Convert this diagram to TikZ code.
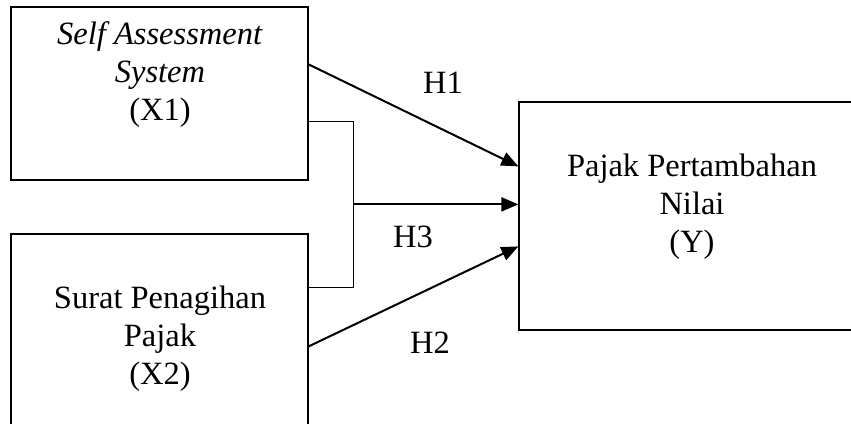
\documentclass[tikz,border=0pt]{standalone}
\usepackage{fontspec}
\setmainfont{Liberation Serif}
\usetikzlibrary{arrows.meta,calc}
\tikzset{
  varbox/.style={draw, line width=0.5pt, inner sep=0pt},
  vartext/.style={align=center, font=\fontsize{13}{15.2}\selectfont},
  effect/.style={-{Triangle[length=6.8pt,width=5.6pt]}, line width=0.8pt},
  joinline/.style={line width=0.5pt}
}
\begin{document}
\begin{tikzpicture}[x=0.4pt, y=-0.4pt]
    \clip (0,0) rectangle (851,423);
    % boxes
    \node[varbox, minimum width=118.8pt, minimum height=69.2pt] (x1) at (159.5,93.5) {};
    \node[varbox, minimum width=118.8pt, minimum height=84pt] (x2) at (159.5,339) {};
    \node[varbox, minimum width=144pt, minimum height=91.2pt] (y) at (699,216) {};
    \node[vartext] (x1txt) at (160,75) {\textit{Self Assessment}\\\textit{System}\\(X1)};
    \node[vartext] (x2txt) at (160,339) {Surat Penagihan\\Pajak\\(X2)};
    \node[vartext] (ytxt) at (692,207) {Pajak Pertambahan\\Nilai\\(Y)};
    % joint effect bracket
    \coordinate (brtop) at ($(x1.north east)+(45,115)$);
    \coordinate (brbot) at ($(x2.north east)+(45,54)$);
    \coordinate (brmid) at ($(brtop)!0.5!(brbot)$);
    \draw[joinline] (x1.east |- brtop) -- (brtop) -- (brbot) -- (x2.east |- brbot);
    % arrows
    \draw[effect] ($(x1.north east)+(0,58)$) -- ($(y.north west)+(0,65)$);
    \draw[effect] (brmid) -- (y.west |- brmid);
    \draw[effect] ($(x2.north east)+(0,113)$) -- ($(y.north west)+(0,145)$);
    \node[vartext] (h1) at (443,83) {H1};
    \node[vartext] (h3) at (413,237) {H3};
    \node[vartext] (h2) at (430,343) {H2};
\end{tikzpicture}
\end{document}
